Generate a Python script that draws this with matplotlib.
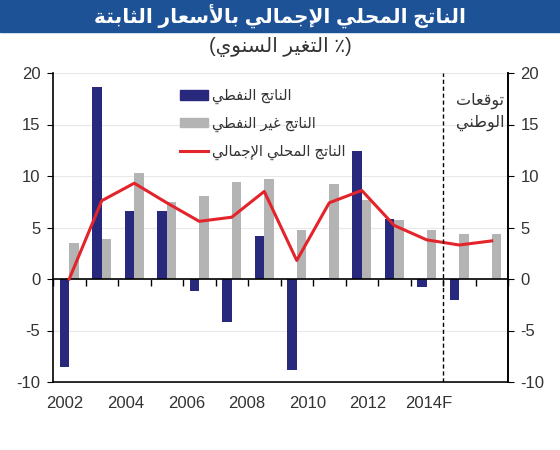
import matplotlib
matplotlib.use("Agg")
import matplotlib.pyplot as plt
import numpy as np
from matplotlib.patches import Rectangle
from matplotlib.lines import Line2D

plt.rcParams['font.family'] = ['Liberation Sans', 'DejaVu Sans']
plt.rcParams['axes.unicode_minus'] = False

# data (annual % change)
years = list(range(2002, 2016))
oil = [-8.5, 18.6, 6.6, 6.6, -1.2, -4.2, 4.2, -8.8, 0.1, 12.4, 5.8, -0.75, -2.0, 0.0]
non_oil = [3.45, 3.9, 10.25, 7.5, 8.05, 9.45, 9.7, 4.8, 9.2, 7.7, 5.7, 4.8, 4.4, 4.4]
total = [0.0, 7.6, 9.3, 7.4, 5.6, 6.0, 8.5, 1.8, 7.4, 8.6, 5.2, 3.8, 3.3, 3.7]
tick_labels = ['2002', '2004', '2006', '2008', '2010', '2012', '2014F']
forecast_start = 2014

# arabic letters -> presentation forms (first code, number of forms)
AR_FORMS = {
    'ا': (0xFE8D, 2), 'أ': (0xFE83, 2), 'إ': (0xFE87, 2), 'آ': (0xFE81, 2),
    'ب': (0xFE8F, 4), 'ة': (0xFE93, 2), 'ت': (0xFE95, 4), 'ث': (0xFE99, 4),
    'ج': (0xFE9D, 4), 'ح': (0xFEA1, 4), 'د': (0xFEA9, 2), 'ر': (0xFEAD, 2),
    'س': (0xFEB1, 4), 'ط': (0xFEC1, 4), 'ع': (0xFEC9, 4), 'غ': (0xFECD, 4),
    'ف': (0xFED1, 4), 'ق': (0xFED5, 4), 'ل': (0xFEDD, 4), 'م': (0xFEE1, 4),
    'ن': (0xFEE5, 4), 'و': (0xFEED, 2), 'ي': (0xFEF1, 4),
}
LAM_ALEF = {'ا': 0xFEFB, 'أ': 0xFEF7, 'إ': 0xFEF9, 'آ': 0xFEF5}


def shape(text):
    # join the letters and return them in visual (left to right) order
    out = []
    i = 0
    prev_joins = False
    while i < len(text):
        c = text[i]
        if c not in AR_FORMS:
            out.append(c)
            prev_joins = False
            i += 1
            continue
        if c == 'ل' and i + 1 < len(text) and text[i + 1] in LAM_ALEF:
            out.append(chr(LAM_ALEF[text[i + 1]] + (1 if prev_joins else 0)))
            prev_joins = False
            i += 2
            continue
        base, n = AR_FORMS[c]
        nxt = text[i + 1] if i + 1 < len(text) else ''
        next_joins = n == 4 and nxt in AR_FORMS
        if prev_joins and next_joins:
            form = 3
        elif prev_joins:
            form = 1
        elif next_joins:
            form = 2
        else:
            form = 0
        out.append(chr(base + form))
        prev_joins = next_joins
        i += 1
    return ''.join(reversed(out))


title = shape('الناتج المحلي الإجمالي بالأسعار الثابتة')
subtitle = '(' + shape('التغير السنوي') + ' ٪)'
lbl_oil = shape('الناتج النفطي')
lbl_non_oil = shape('الناتج غير النفطي')
lbl_total = shape('الناتج المحلي الإجمالي')
note = shape('توقعات') + '\n' + shape('الوطني')

navy = '#28287c'
gray = '#b4b4b4'
red = '#e3242b'
txt = '#333333'

fig = plt.figure(figsize=(5.6, 4.5), dpi=100)
fig.patches.append(Rectangle((0, 1 - 32 / 450), 1, 32 / 450, transform=fig.transFigure,
                             color='#1e5296', zorder=0))
fig.text(0.5, 1 - 16 / 450, title, color='white', fontsize=14.5, fontweight='bold',
         ha='center', va='center')
fig.text(0.5, 1 - 47 / 450, subtitle, color=txt, fontsize=14.5, ha='center', va='center')

ax = fig.add_axes([53 / 560, 68 / 450, 455 / 560, 309 / 450])
x = np.arange(len(years))
w = 0.29
ax.bar(x - w / 2, oil, w, color=navy, zorder=2)
ax.bar(x + w / 2, non_oil, w, color=gray, zorder=2)
ax.plot(x, total, color=red, lw=2.2, zorder=3)

ax.set_xlim(-0.5, len(years) - 0.5)
ax.set_ylim(-10, 20)
ax.set_yticks(np.arange(-10, 21, 5))
ax.yaxis.grid(True, color='#e8e8e8', lw=0.8)
ax.set_axisbelow(True)

fx = years.index(forecast_start) - 0.5
ax.axvline(fx, color='black', ls=(0, (3, 2)), lw=1, zorder=4)

# zero line carries the category ticks
ax.spines['bottom'].set_position(('data', 0))
ax.spines['top'].set_visible(False)
ax.set_xticks(np.arange(len(years) + 1) - 0.5)
ax.tick_params(axis='x', direction='out', length=5, width=1, labelbottom=False)
ax.tick_params(axis='y', direction='out', length=4, labelsize=12, labelcolor=txt, pad=5)
for s in ax.spines.values():
    s.set_linewidth(1.2)

sec = ax.secondary_xaxis(0.0)
sec.set_xticks(np.linspace(-0.13, 11.06, len(tick_labels)))
sec.set_xticklabels(tick_labels)
sec.tick_params(length=0, labelsize=12, labelcolor=txt, pad=10)
sec.spines['bottom'].set_linewidth(1.2)

ax2 = ax.twinx()
ax2.set_ylim(-10, 20)
ax2.set_yticks(np.arange(-10, 21, 5))
ax2.tick_params(axis='y', direction='out', length=4, labelsize=12, labelcolor=txt, pad=5)
ax2.spines['top'].set_visible(False)
ax2.spines['left'].set_visible(False)
ax2.spines['bottom'].set_visible(False)
ax2.spines['right'].set_linewidth(1.2)

ax.text(12.65, 16.2, note, fontsize=11.5, color=txt, ha='center', va='center',
        linespacing=1.5, zorder=5)

handles = [Rectangle((0, 0), 1, 1, color=navy), Rectangle((0, 0), 1, 1, color=gray),
           Line2D([0], [0], color=red, lw=2.2)]
ax.legend(handles, [lbl_oil, lbl_non_oil, lbl_total], loc='upper left',
          bbox_to_anchor=(0.25, 0.99), frameon=False, fontsize=10.5,
          handlelength=1.9, handleheight=0.6, labelspacing=0.85, handletextpad=0.3,
          labelcolor=txt)

fig.savefig('out.png', dpi=100)
